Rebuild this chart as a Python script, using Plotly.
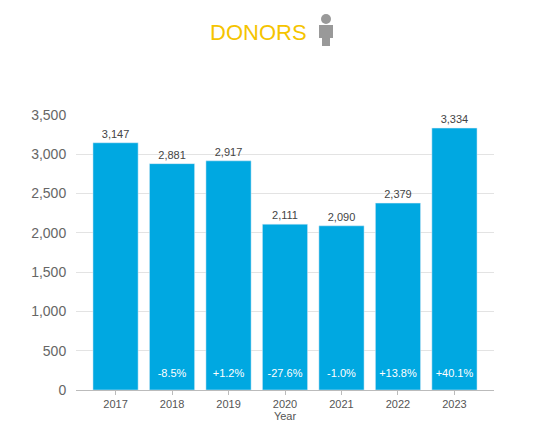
import plotly.graph_objects as go

years = ["2017", "2018", "2019", "2020", "2021", "2022", "2023"]
donors = [3147, 2881, 2917, 2111, 2090, 2379, 3334]
changes = ["", "-8.5%", "+1.2%", "-27.6%", "-1.0%", "+13.8%", "+40.1%"]

fig = go.Figure()
fig.add_bar(x=years, y=donors, marker_color="#00a8e1", width=0.8,
            text=[f"{v:,}" for v in donors], textposition="outside",
            textfont=dict(size=11, color="#444"), cliponaxis=False)
fig.add_scatter(x=years, y=[200]*7, mode="text", text=changes,
                textfont=dict(size=11, color="white"), showlegend=False)

L, R, T, B = 68, 54, 107, 39
fig.update_layout(
    width=540, height=421, plot_bgcolor="white", paper_bgcolor="white",
    margin=dict(l=L, r=R, t=T, b=B, autoexpand=False), showlegend=False,
    font=dict(family="Liberation Sans", color="#555"),
    xaxis=dict(type="category", range=[-0.7, 6.7], showline=True, linecolor="#bbb",
               ticks="outside", ticklen=4, tickcolor="#bbb", tickfont=dict(size=11),
               automargin=False,
               title=dict(text="Year", font=dict(size=11), standoff=2)),
    yaxis=dict(range=[0, 3500], dtick=500, tickformat=",", showgrid=True, automargin=False,
               gridcolor="#e3e3e3", tickfont=dict(size=14, color="#666"), zeroline=False,
               ticks="outside", ticklen=6, tickcolor="white"),
)
W, H = 540 - L - R, 421 - T - B
def px(x): return (x - L) / W
def py(y): return (421 - B - y) / H
fig.add_shape(type="circle", xref="paper", yref="paper", x0=px(313), x1=px(323), y0=py(16), y1=py(6),
              fillcolor="#999", line_width=0)
fig.add_shape(type="rect", xref="paper", yref="paper", x0=px(311), x1=px(325), y0=py(30), y1=py(17),
              fillcolor="#999", line_width=0)
fig.add_shape(type="rect", xref="paper", yref="paper", x0=px(314), x1=px(322), y0=py(38), y1=py(30),
              fillcolor="#999", line_width=0)
fig.update_layout(annotations=[dict(text="DONORS", x=px(250), y=py(24), xref="paper", yref="paper",
                      showarrow=False, font=dict(size=22, color="#f5c400"),
                      xanchor="center", yanchor="middle")])
fig.write_html("out.html")
